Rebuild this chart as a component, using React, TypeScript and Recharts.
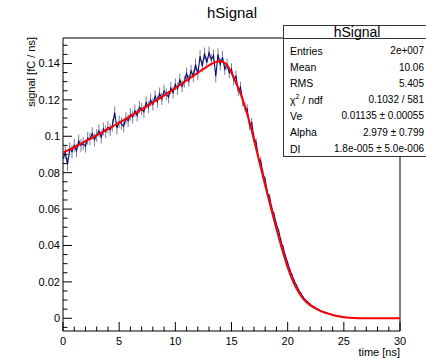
import React from 'react';
import { ComposedChart, Line, XAxis, YAxis, ReferenceArea, ErrorBar } from 'recharts';

// histogram bins, 0.2 ns wide, starting at 0 ns
const histStart = 0;
const histStep = 0.2;
const histValues = [
  0.0875, 0.0910, 0.0845, 0.0930, 0.0915, 0.0950, 0.0920, 0.0975, 0.0950, 0.0960,
  0.0945, 0.0990, 0.0985, 0.1015, 0.0980, 0.1005, 0.1030, 0.0995, 0.1040, 0.1025,
  0.1050, 0.1035, 0.1060, 0.1130, 0.1045, 0.1080, 0.1070, 0.1055, 0.1100, 0.1085,
  0.1120, 0.1105, 0.1140, 0.1115, 0.1160, 0.1150, 0.1135, 0.1185, 0.1160, 0.1200,
  0.1175, 0.1220, 0.1190, 0.1235, 0.1205, 0.1250, 0.1230, 0.1215, 0.1265, 0.1240,
  0.1285, 0.1260, 0.1310, 0.1275, 0.1300, 0.1345, 0.1305, 0.1360, 0.1330, 0.1395,
  0.1340, 0.1440, 0.1385, 0.1455, 0.1405, 0.1460, 0.1420, 0.1445, 0.1330, 0.1450,
  0.1395, 0.1435, 0.1370, 0.1395, 0.1350, 0.1370, 0.1310, 0.1330, 0.1250, 0.1270,
  0.1190, 0.1160, 0.1150, 0.1060, 0.1075, 0.0990, 0.0965, 0.0880, 0.0865, 0.0795,
  0.0760, 0.0690, 0.0665, 0.0600, 0.0568, 0.0515, 0.0478, 0.0425, 0.0388, 0.0342,
  0.0305, 0.0266, 0.0234, 0.0203, 0.0178, 0.0152, 0.0134, 0.0114, 0.0100, 0.0088,
  0.0077, 0.0067, 0.0060, 0.0052, 0.0046, 0.0040, 0.0035, 0.0031, 0.0027, 0.0023,
  0.0019, 0.0016, 0.0013, 0.0011, 0.0009, 0.0007, 0.0005, 0.0004, 0.0003, 0.0002,
  0.0001,
];
const histErrors = [
  0.0036, 0.0036, 0.0036, 0.0036, 0.0036, 0.0035, 0.0035, 0.0035, 0.0035, 0.0035,
  0.0035, 0.0035, 0.0035, 0.0035, 0.0035, 0.0035, 0.0035, 0.0035, 0.0035, 0.0035,
  0.0034, 0.0034, 0.0034, 0.0034, 0.0034, 0.0034, 0.0034, 0.0034, 0.0034, 0.0034,
  0.0034, 0.0034, 0.0034, 0.0034, 0.0034, 0.0034, 0.0034, 0.0034, 0.0034, 0.0034,
  0.0033, 0.0033, 0.0033, 0.0033, 0.0033, 0.0033, 0.0033, 0.0033, 0.0033, 0.0033,
  0.0033, 0.0033, 0.0033, 0.0033, 0.0033, 0.0033, 0.0033, 0.0033, 0.0033, 0.0033,
  0.0033, 0.0033, 0.0033, 0.0033, 0.0033, 0.0033, 0.0033, 0.0033, 0.0033, 0.0033,
  0.0033, 0.0033, 0.0033, 0.0032, 0.0031, 0.0030, 0.0030, 0.0029, 0.0028, 0.0028,
  0.0027, 0.0026, 0.0026, 0.0025, 0.0024, 0.0024, 0.0023, 0.0022, 0.0022, 0.0021,
  0.0020, 0.0019, 0.0019, 0.0018, 0.0017, 0.0016, 0.0016, 0.0015, 0.0014, 0.0013,
  0.0012, 0.0012, 0.0011, 0.0010, 0.0010, 0.0009, 0.0008, 0.0008, 0.0007, 0.0007,
  0.0006, 0.0006, 0.0005, 0.0005, 0.0005, 0.0004, 0.0004, 0.0004, 0.0003, 0.0003,
  0.0003, 0.0002, 0.0002, 0.0002, 0.0002, 0.0001, 0.0001, 0.0001, 0.0001, 0.0001,
  0.0001,
];

// fitted function, sampled every 0.5 ns
const fitTimes = [
  0, 0.5, 1, 1.5, 2, 2.5, 3, 3.5, 4, 4.5, 5, 5.5, 6, 6.5, 7, 7.5, 8, 8.5, 9, 9.5,
  10, 10.5, 11, 11.5, 12, 12.5, 13, 13.5, 14, 14.5, 15, 15.5, 16, 16.5, 17, 17.5,
  18, 18.5, 19, 19.5, 20, 20.5, 21, 21.5, 22, 22.5, 23, 23.5, 24, 24.5, 25, 25.5,
  26, 26.5, 27, 27.5, 28, 28.5, 29, 29.5, 30,
];
const fitValues = [
  0.0910, 0.0925, 0.0941, 0.0957, 0.0973, 0.0989, 0.1006, 0.1023, 0.1040, 0.1057,
  0.1075, 0.1093, 0.1111, 0.1129, 0.1148, 0.1167, 0.1186, 0.1205, 0.1225, 0.1245,
  0.1265, 0.1286, 0.1307, 0.1328, 0.1349, 0.1370, 0.1390, 0.1406, 0.1412, 0.1398,
  0.1348, 0.1280, 0.1200, 0.1100, 0.0980, 0.0855, 0.0730, 0.0608, 0.0490, 0.0380,
  0.0280, 0.0200, 0.0140, 0.0098, 0.0072, 0.0053, 0.0038, 0.0027, 0.0018, 0.0011,
  0.0006, 0.0003, 0.0001, 0, 0, 0, 0, 0, 0, 0, 0,
];

const xTicks = [
  0, 1, 2, 3, 4, 5, 6, 7, 8, 9, 10, 11, 12, 13, 14, 15, 16, 17, 18, 19, 20,
  21, 22, 23, 24, 25, 26, 27, 28, 29, 30,
];
const yTicks = [
  -0.005, 0, 0.005, 0.01, 0.015, 0.02, 0.025, 0.03, 0.035, 0.04, 0.045, 0.05,
  0.055, 0.06, 0.065, 0.07, 0.075, 0.08, 0.085, 0.09, 0.095, 0.1, 0.105, 0.11,
  0.115, 0.12, 0.125, 0.13, 0.135, 0.14, 0.145, 0.15,
];

const statLabels = ['Entries', 'Mean', 'RMS', 'chi2', 'Ve', 'Alpha', 'DI'];
const statValues = [
  '2e+007', '10.06', '5.405', '0.1032 / 581',
  '0.01135 \u00b1 0.00055', '2.979 \u00b1 0.799', '1.8e-005 \u00b1 5.0e-006',
];

const X_MIN = 0;
const X_MAX = 30;
const Y_MIN = -0.007;
const Y_MAX = 0.154;

const histData = histValues.map((v, i) => ({
  t: +(histStart + i * histStep).toFixed(2),
  v,
  e: histErrors[i],
}));
const fitData = fitTimes.map((t, i) => ({ t, f: fitValues[i] }));

const FONT = '"Liberation Sans", Arial, Helvetica, sans-serif';

const XTick = (props: any) => {
  const { x, y, payload } = props;
  const major = payload.value % 5 === 0;
  return (
    <g>
      <line x1={x} y1={y} x2={x} y2={y - (major ? 9 : 4.5)} stroke="#000" />
      {major && (
        <text x={x} y={y + 10} textAnchor="middle" dominantBaseline="central"
          fontSize={11} fontFamily={FONT} fill="#000">
          {payload.value}
        </text>
      )}
    </g>
  );
};

const YTick = (props: any) => {
  const { x, y, payload } = props;
  const major = Math.round(payload.value * 1000) % 20 === 0;
  return (
    <g>
      <line x1={x} y1={y} x2={x + (major ? 9 : 4.5)} y2={y} stroke="#000" />
      {major && (
        <text x={x - 3} y={y} textAnchor="end" dominantBaseline="central"
          fontSize={11} fontFamily={FONT} fill="#000">
          {String(Number(payload.value.toFixed(3)))}
        </text>
      )}
    </g>
  );
};

const StatsBox = () => {
  const left = 283.5;
  const top = 25.5;
  const rowY0 = 50.7;
  const rowH = 16.3;
  return (
    <g fontFamily={FONT} fill="#000">
      <rect x={left} y={top} width={150} height={131} fill="#fff" stroke="#333" />
      <line x1={left} y1={38.5} x2={426} y2={38.5} stroke="#333" />
      <text x={357} y={32} textAnchor="middle" dominantBaseline="central" fontSize={14}>hSignal</text>
      {statLabels.map((lab, i) => (
        <g key={lab}>
          <text x={290} y={rowY0 + i * rowH} dominantBaseline="central" fontSize={10.5}>
            {lab === 'chi2' ? (
              <>
                {'\u03c7'}
                <tspan dy={-4} fontSize={7}>2</tspan>
                <tspan dy={4}>{' / ndf'}</tspan>
              </>
            ) : lab}
          </text>
          <text x={424} y={rowY0 + i * rowH} textAnchor="end" dominantBaseline="central" fontSize={10}>
            {statValues[i]}
          </text>
        </g>
      ))}
    </g>
  );
};

const App: React.FC = () => {
  return (
    <div style={{ position: 'relative', width: 426, height: 359, background: '#fff' }}>
      <style>{'body{margin:0}'}</style>
      <ComposedChart width={426} height={359} margin={{ top: 38, right: 26, bottom: 0, left: 0 }}>
        <XAxis type="number" dataKey="t" domain={[X_MIN, X_MAX]} ticks={xTicks} interval={0}
          allowDataOverflow axisLine={false} tickLine={false} tickSize={0} tickMargin={0}
          height={28} tick={<XTick />} />
        <YAxis type="number" domain={[Y_MIN, Y_MAX]} ticks={yTicks} interval={0}
          allowDataOverflow axisLine={false} tickLine={false} tickSize={0} tickMargin={0}
          width={63} tick={<YTick />} />
        <ReferenceArea x1={X_MIN} x2={X_MAX} y1={Y_MIN} y2={Y_MAX} fill="none" fillOpacity={0}
          stroke="#000" strokeWidth={1} />
        <Line data={histData} dataKey="v" type="linear" stroke="#0a0a70" strokeWidth={1.1}
          dot={false} isAnimationActive={false}>
          <ErrorBar dataKey="e" direction="y" width={0} stroke="#7c7c96" strokeWidth={1} />
        </Line>
        <Line data={fitData} dataKey="f" type="monotone" stroke="#ff0000" strokeWidth={2}
          dot={false} isAnimationActive={false} />
      </ComposedChart>
      <svg width={426} height={359} style={{ position: 'absolute', left: 0, top: 0, pointerEvents: 'none' }}>
        <text x={232} y={12} textAnchor="middle" dominantBaseline="central" fontSize={15}
          fontFamily={FONT} fill="#000">hSignal</text>
        <text transform="translate(31,37) rotate(-90)" textAnchor="end" dominantBaseline="central"
          fontSize={11} fontFamily={FONT} fill="#000">signal [fC / ns]</text>
        <text x={400} y={352} textAnchor="end" dominantBaseline="central" fontSize={11}
          fontFamily={FONT} fill="#000">time [ns]</text>
        <StatsBox />
      </svg>
    </div>
  );
};

export default App;
